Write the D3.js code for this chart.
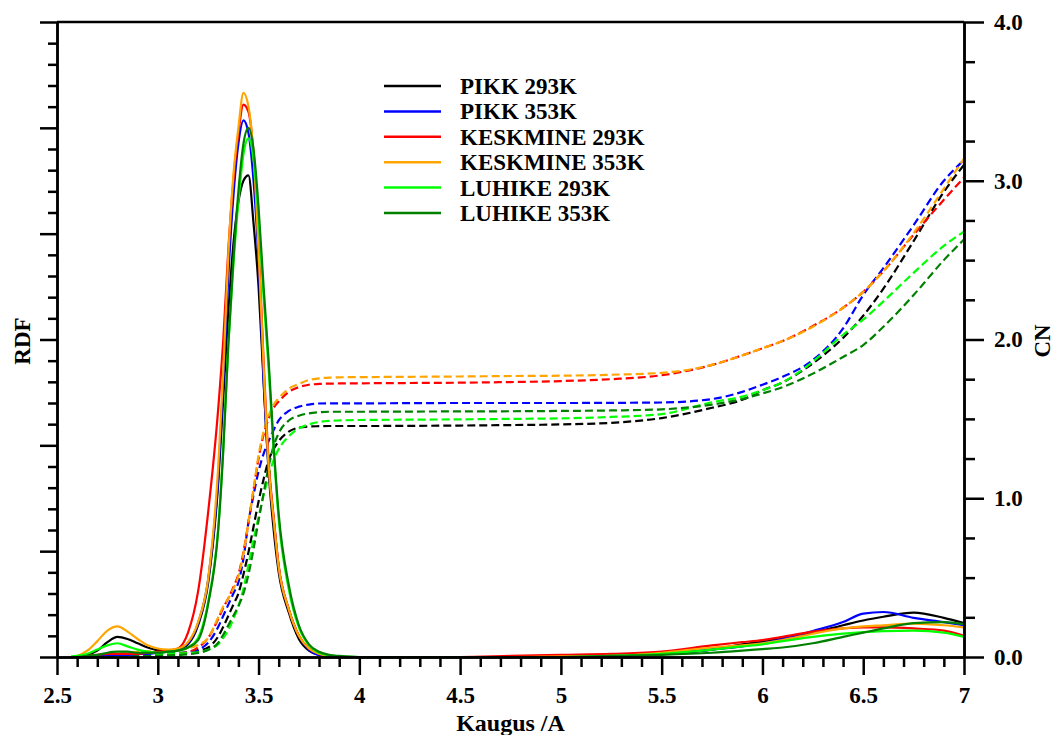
<!DOCTYPE html>
<html><head><meta charset="utf-8">
<script src="https://cdn.jsdelivr.net/npm/d3@7"></script>
<style>
body{margin:0;background:#fff;}
svg{display:block;}
text{font-family:"Liberation Serif","Times New Roman",serif;font-weight:bold;fill:#000;}
</style></head><body>
<svg id="chart" width="1056" height="735"></svg>
<script>
// ---- data ----
const distances = [2.57, 2.6, 2.65, 2.7, 2.75, 2.8, 2.85, 2.9, 2.95, 3.0, 3.05, 3.1, 3.15, 3.2, 3.25, 3.3, 3.325, 3.35, 3.375, 3.4, 3.425, 3.45, 3.475, 3.5, 3.525, 3.55, 3.575, 3.6, 3.65, 3.7, 3.75, 3.8, 3.85, 3.9, 4.0, 4.25, 4.5, 4.75, 5.0, 5.25, 5.5, 5.75, 5.9, 6.0, 6.1, 6.25, 6.4, 6.5, 6.6, 6.75, 6.9, 7.0];

const seriesNames = ["PIKK 293K", "PIKK 353K", "KESKMINE 293K", "KESKMINE 353K", "LUHIKE 293K", "LUHIKE 353K"];
const seriesColors = ["#000000", "#0000ff", "#ff0000", "#ffa500", "#00ff00", "#008000"];

// RDF (left axis)
const rdfPikk293 = [0, 0, 0.02, 0.06, 0.14, 0.19, 0.17, 0.13, 0.09, 0.065, 0.06, 0.07, 0.12, 0.3, 0.7, 1.65, 2.45, 3.25, 3.9, 4.3, 4.5, 4.55, 4.1, 3.5, 2.6, 1.75, 1.2, 0.8, 0.42, 0.17, 0.06, 0.02, 0.005, 0, 0, 0, 0, 0, 0.005, 0.01, 0.03, 0.07, 0.12, 0.145, 0.18, 0.23, 0.3, 0.345, 0.38, 0.42, 0.37, 0.32];
const rdfPikk353 = [0, 0, 0, 0.01, 0.02, 0.02, 0.02, 0.03, 0.03, 0.04, 0.05, 0.07, 0.13, 0.32, 0.73, 1.7, 2.6, 3.6, 4.35, 4.85, 5.07, 4.95, 4.5, 3.75, 2.62, 1.8, 1.3, 0.85, 0.45, 0.2, 0.07, 0.02, 0.01, 0, 0, 0, 0, 0, 0, 0.01, 0.03, 0.07, 0.1, 0.13, 0.17, 0.245, 0.33, 0.41, 0.425, 0.37, 0.33, 0.30];
const rdfKesk293 = [0, 0, 0.01, 0.02, 0.03, 0.03, 0.03, 0.03, 0.04, 0.05, 0.06, 0.08, 0.23, 0.62, 1.37, 2.35, 3.0, 3.85, 4.5, 4.95, 5.22, 5.15, 4.75, 3.9, 2.8, 1.85, 1.32, 0.86, 0.45, 0.2, 0.08, 0.03, 0.01, 0, 0, 0, 0, 0.01, 0.02, 0.03, 0.05, 0.11, 0.14, 0.16, 0.19, 0.24, 0.27, 0.28, 0.28, 0.27, 0.25, 0.20];
const rdfKesk353 = [0, 0.01, 0.06, 0.15, 0.25, 0.29, 0.24, 0.17, 0.11, 0.08, 0.07, 0.08, 0.14, 0.33, 0.74, 1.8, 2.7, 3.8, 4.55, 5.0, 5.33, 5.2, 4.75, 3.85, 2.75, 1.8, 1.3, 0.85, 0.45, 0.2, 0.08, 0.03, 0.01, 0, 0, 0, 0, 0, 0.005, 0.01, 0.04, 0.09, 0.11, 0.13, 0.16, 0.22, 0.27, 0.29, 0.30, 0.315, 0.30, 0.28];
const rdfLuhike293 = [0.005, 0.01, 0.03, 0.07, 0.11, 0.13, 0.10, 0.07, 0.05, 0.04, 0.05, 0.06, 0.09, 0.18, 0.52, 1.22, 1.98, 2.95, 3.7, 4.3, 4.75, 4.9, 4.7, 4.15, 3.4, 2.72, 1.95, 1.3, 0.64, 0.28, 0.11, 0.04, 0.015, 0.005, 0, 0, 0, 0, 0, 0.01, 0.03, 0.07, 0.1, 0.12, 0.15, 0.19, 0.22, 0.235, 0.245, 0.25, 0.23, 0.19];
const rdfLuhike353 = [0, 0, 0.01, 0.02, 0.04, 0.05, 0.05, 0.04, 0.04, 0.04, 0.05, 0.06, 0.09, 0.16, 0.5, 1.2, 1.95, 2.95, 3.75, 4.4, 4.85, 5.0, 4.8, 4.25, 3.5, 2.8, 2.0, 1.35, 0.68, 0.3, 0.12, 0.05, 0.02, 0.01, 0, 0, 0, 0, 0, 0.01, 0.02, 0.04, 0.06, 0.075, 0.09, 0.13, 0.19, 0.23, 0.27, 0.32, 0.33, 0.31];

// CN (right axis)
const cnPikk293 = [0, 0, 0.001, 0.002, 0.005, 0.008, 0.012, 0.015, 0.018, 0.02, 0.022, 0.025, 0.03, 0.04, 0.06, 0.13, 0.19, 0.26, 0.33, 0.4, 0.52, 0.66, 0.82, 0.98, 1.12, 1.24, 1.31, 1.36, 1.42, 1.445, 1.452, 1.454, 1.455, 1.455, 1.455, 1.456, 1.458, 1.461, 1.465, 1.475, 1.505, 1.57, 1.62, 1.68, 1.73, 1.85, 2.01, 2.15, 2.32, 2.62, 2.93, 3.1];
const cnPikk353 = [0, 0, 0, 0.001, 0.002, 0.003, 0.004, 0.005, 0.007, 0.009, 0.012, 0.016, 0.025, 0.045, 0.09, 0.19, 0.26, 0.33, 0.4, 0.47, 0.62, 0.85, 1.02, 1.17, 1.28, 1.36, 1.43, 1.49, 1.55, 1.577, 1.59, 1.597, 1.598, 1.598, 1.598, 1.599, 1.6, 1.6, 1.6, 1.601, 1.603, 1.625, 1.67, 1.715, 1.765, 1.87, 2.07, 2.28, 2.45, 2.72, 3.0, 3.13];
const cnKesk293 = [0, 0, 0, 0.001, 0.002, 0.003, 0.004, 0.005, 0.007, 0.01, 0.014, 0.02, 0.03, 0.06, 0.12, 0.24, 0.31, 0.37, 0.44, 0.52, 0.66, 0.85, 1.05, 1.25, 1.4, 1.5, 1.57, 1.61, 1.67, 1.7, 1.715, 1.72, 1.722, 1.723, 1.724, 1.726, 1.728, 1.732, 1.738, 1.75, 1.775, 1.84, 1.9, 1.945, 1.99, 2.085, 2.2, 2.3, 2.43, 2.66, 2.88, 3.02];
const cnKesk353 = [0, 0, 0.002, 0.006, 0.012, 0.02, 0.027, 0.032, 0.035, 0.038, 0.04, 0.045, 0.055, 0.075, 0.12, 0.25, 0.32, 0.37, 0.43, 0.51, 0.65, 0.85, 1.06, 1.27, 1.42, 1.52, 1.59, 1.63, 1.69, 1.72, 1.745, 1.755, 1.76, 1.762, 1.763, 1.765, 1.767, 1.77, 1.772, 1.778, 1.79, 1.84, 1.9, 1.945, 1.99, 2.08, 2.2, 2.3, 2.43, 2.67, 2.95, 3.14];
const cnLuhike293 = [0, 0, 0.002, 0.004, 0.007, 0.01, 0.012, 0.015, 0.017, 0.018, 0.02, 0.022, 0.025, 0.03, 0.045, 0.08, 0.12, 0.17, 0.24, 0.32, 0.43, 0.58, 0.74, 0.88, 1.02, 1.14, 1.24, 1.31, 1.39, 1.44, 1.465, 1.48, 1.487, 1.49, 1.493, 1.495, 1.497, 1.5, 1.503, 1.512, 1.53, 1.605, 1.64, 1.68, 1.73, 1.86, 2.03, 2.125, 2.24, 2.42, 2.59, 2.68];
const cnLuhike353 = [0, 0, 0, 0.001, 0.002, 0.003, 0.004, 0.005, 0.006, 0.008, 0.01, 0.012, 0.017, 0.025, 0.045, 0.09, 0.14, 0.2, 0.26, 0.32, 0.4, 0.52, 0.68, 0.86, 1.03, 1.2, 1.33, 1.41, 1.49, 1.52, 1.535, 1.542, 1.545, 1.545, 1.545, 1.546, 1.547, 1.548, 1.55, 1.553, 1.56, 1.59, 1.625, 1.66, 1.7, 1.785, 1.89, 1.965, 2.08, 2.28, 2.5, 2.63];

const rdfSeries = [rdfPikk293, rdfPikk353, rdfKesk293, rdfKesk353, rdfLuhike293, rdfLuhike353];
const cnSeries = [cnPikk293, cnPikk353, cnKesk293, cnKesk353, cnLuhike293, cnLuhike353];

const xTickValues = [2.5, 3, 3.5, 4, 4.5, 5, 5.5, 6, 6.5, 7];
const xTickLabels = ["2.5", "3", "3.5", "4", "4.5", "5", "5.5", "6", "6.5", "7"];
const cnTickValues = [0, 1, 2, 3, 4];
const cnTickLabels = ["0.0", "1.0", "2.0", "3.0", "4.0"];
const rdfTickValues = [0, 1, 2, 3, 4, 5, 6];
const xTitle = "Kaugus /A", leftTitle = "RDF", rightTitle = "CN";

// ---- layout ----
const L = 57, R = 964, T = 22, B = 657;
const svg = d3.select("#chart");
const x = d3.scaleLinear().domain([2.5, 7]).range([L, R]);
const yRdf = d3.scaleLinear().domain([0, 6]).range([B, T]);
const yCn = d3.scaleLinear().domain([0, 4]).range([B, T]);
const AX = 2.5;

function styleAxis(g) {
  g.selectAll("path.domain").attr("stroke", "#000").attr("stroke-width", AX);
  g.selectAll(".tick line").attr("stroke", "#000").attr("stroke-width", AX);
  g.selectAll(".tick text").style("font-size", "23px").style("font-family", '"Liberation Serif", serif').style("font-weight", "bold").attr("fill", "#000");
}

// lines
const plot = svg.append("g");
const lineR = d3.line().x((d, i) => x(distances[i])).y(d => yRdf(d)).curve(d3.curveMonotoneX);
const lineC = d3.line().x((d, i) => x(distances[i])).y(d => yCn(d)).curve(d3.curveMonotoneX);

cnSeries.forEach((s, k) => {
  plot.append("path").attr("d", lineC(s)).attr("fill", "none")
    .attr("stroke", seriesColors[k]).attr("stroke-width", 2.2)
    .attr("stroke-dasharray", "8,4");
});
rdfSeries.forEach((s, k) => {
  plot.append("path").attr("d", lineR(s)).attr("fill", "none")
    .attr("stroke", seriesColors[k]).attr("stroke-width", 2.2)
    .attr("stroke-linejoin", "round");
});

// axes
const minorX = d3.range(26, 70).map(v => v / 10).filter(v => Math.abs(v * 2 - Math.round(v * 2)) > 1e-6);
svg.append("g").attr("transform", `translate(0,${B})`)
  .call(d3.axisBottom(x).tickValues(minorX).tickSize(10).tickSizeOuter(0).tickFormat(""))
  .call(styleAxis);
svg.append("g").attr("transform", `translate(0,${B})`)
  .call(d3.axisBottom(x).tickValues(xTickValues).tickSize(18).tickSizeOuter(0).tickPadding(12)
    .tickFormat((d, i) => xTickLabels[i]))
  .call(styleAxis);

const minorR = d3.range(0, 31).map(v => v / 5).filter(v => Math.abs(v - Math.round(v)) > 1e-6);
svg.append("g").attr("transform", `translate(${L},0)`)
  .call(d3.axisLeft(yRdf).tickValues(minorR).tickSize(9).tickSizeOuter(0).tickFormat(""))
  .call(styleAxis);
svg.append("g").attr("transform", `translate(${L},0)`)
  .call(d3.axisLeft(yRdf).tickValues(rdfTickValues).tickSize(17).tickSizeOuter(0).tickFormat(""))
  .call(styleAxis);

const minorC = d3.range(0, 17).map(v => v / 4).filter(v => Math.abs(v - Math.round(v)) > 1e-6);
svg.append("g").attr("transform", `translate(${R},0)`)
  .call(d3.axisRight(yCn).tickValues(minorC).tickSize(11).tickSizeOuter(0).tickFormat(""))
  .call(styleAxis);
svg.append("g").attr("transform", `translate(${R},0)`)
  .call(d3.axisRight(yCn).tickValues(cnTickValues).tickSize(20).tickSizeOuter(0).tickPadding(10)
    .tickFormat((d, i) => cnTickLabels[i]))
  .call(styleAxis);

// top frame
svg.append("line").attr("x1", L).attr("x2", R).attr("y1", T).attr("y2", T)
  .attr("stroke", "#000").attr("stroke-width", AX);

// titles
svg.append("text").attr("x", (L + R) / 2).attr("y", 731).attr("text-anchor", "middle")
  .style("font-size", "24px").text(xTitle);
svg.append("text").attr("transform", "translate(30,341) rotate(-90)").attr("text-anchor", "middle")
  .style("font-size", "23px").text(leftTitle);
svg.append("text").attr("transform", "translate(1050,341) rotate(-90)").attr("text-anchor", "middle")
  .style("font-size", "23px").text(rightTitle);

// legend
const legend = svg.append("g");
seriesNames.forEach((name, k) => {
  const cy = 86 + k * 25.4;
  legend.append("line").attr("x1", 384).attr("x2", 441).attr("y1", cy).attr("y2", cy)
    .attr("stroke", seriesColors[k]).attr("stroke-width", 2.5);
  legend.append("text").attr("x", 460).attr("y", cy + 8).style("font-size", "23px").text(name);
});
</script>
</body></html>
